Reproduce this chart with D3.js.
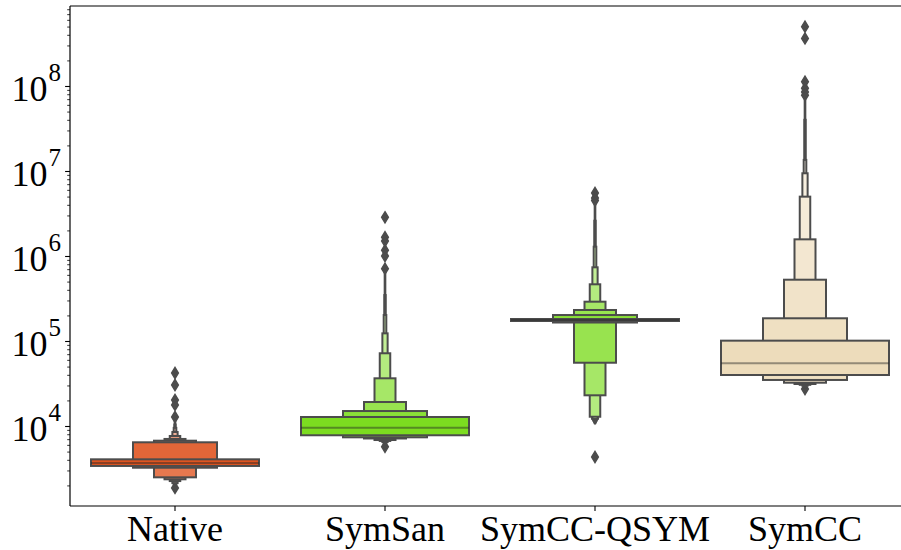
<!DOCTYPE html>
<html>
<head>
<meta charset="utf-8">
<script src="https://cdn.jsdelivr.net/npm/d3@7"></script>
<style>
  body { margin: 0; background: #ffffff; }
  text { font-family: "Liberation Serif", "DejaVu Serif", serif; fill: #000; }
</style>
</head>
<body>
<svg id="chart" width="901" height="550"></svg>
<script>
// Letter-value (boxen) plot of per-tool measurements on a log scale.
const categories = ["Native", "SymSan", "SymCC-QSYM", "SymCC"];
const baseColors = ["#df5420", "#7cdc20", "#7cdc20", "#eddcbb"];

// Medians
const medians = [3670, 9550, 176600, 54700];

// Letter values, innermost box (quartiles) first, then octiles, sixteenths, ...
const nativeUpper = [4055, 6430, 6715, 7040, 7630, 8500, 9500, 10400, 11100];
const nativeLower = [3388, 3230, 2490, 2360, 2250, 2130, 2080, 2030, 1990];
const symsanUpper = [12760, 15000, 19150, 36400, 71700, 123000, 202000, 347000, 631000];
const symsanLower = [7780, 7360, 7130, 6840, 6670, 6480, 6310, 6140, 5980];
const qsymUpper = [181400, 202000, 231600, 290000, 464500, 736000, 1286000, 2600000, 4100000];
const qsymLower = [171900, 165000, 55500, 22970, 12850, 12080, 11450, 11100, 10800];
const symccUpper = [100900, 185000, 526000, 1570000, 4990000, 9400000, 13500000, 40000000, 68000000];
const symccLower = [39800, 34800, 32300, 31200, 30500, 29800, 29200, 28700, 28300];

// Points beyond the outermost letter values
const nativeOutliers = [42000, 30300, 20200, 17700, 12750, 1870];
const symsanOutliers = [2850000, 1660000, 1500000, 1170000, 1000000, 710000, 5700];
const qsymOutliers = [5500000, 4800000, 4500000, 12300, 4320];
const symccOutliers = [499000000, 363000000, 112000000, 94000000, 85000000, 78000000, 27200];

// Axis ticks
const majorTicks = [1e4, 1e5, 1e6, 1e7, 1e8];
const majorExponents = ["4", "5", "6", "7", "8"];
const yDomain = [1145, 8.73e8];

const upperSets = [nativeUpper, symsanUpper, qsymUpper, symccUpper];
const lowerSets = [nativeLower, symsanLower, qsymLower, symccLower];
const outlierSets = [nativeOutliers, symsanOutliers, qsymOutliers, symccOutliers];

const svg = d3.select("#chart");
const area = { left: 70, right: 910, top: 6, bottom: 506 };
const gray = "#4c4c4c";

const x = d3.scaleBand().domain(categories).range([area.left, area.right]).padding(0);
const y = d3.scaleLog().domain(yDomain).range([area.bottom, area.top]);
const fullWidth = x.bandwidth() * 0.8;

// Box colours fade from the base colour toward white for the outer letter values
function shade(base, i, k) {
  const t = 0.85 * i / (k - 1);
  return d3.interpolateRgb(base, "#ffffff")(t);
}

const boxesLayer = svg.append("g");
categories.forEach((cat, ci) => {
  const cx = x(cat) + x.bandwidth() / 2;
  const g = boxesLayer.append("g");
  // outliers (drawn underneath the boxes)
  g.selectAll("path.flier")
    .data(outlierSets[ci])
    .join("path")
    .attr("class", "flier")
    .attr("d", v => {
      const py = y(v), hh = 5.6, hw = 3.4;
      return `M${cx},${py - hh}L${cx + hw},${py}L${cx},${py + hh}L${cx - hw},${py}Z`;
    })
    .attr("fill", gray)
    .attr("stroke", gray)
    .attr("stroke-width", 1.4);

  const ups = upperSets[ci], lows = lowerSets[ci];
  const k = ups.length;
  const idx = d3.range(k).reverse(); // outermost first, quartile box on top
  g.selectAll("rect.lv")
    .data(idx)
    .join("rect")
    .attr("class", "lv")
    .attr("x", i => cx - fullWidth * Math.pow(2, -i) / 2)
    .attr("width", i => fullWidth * Math.pow(2, -i))
    .attr("y", i => y(ups[i]))
    .attr("height", i => Math.max(0, y(lows[i]) - y(ups[i])))
    .attr("fill", i => shade(baseColors[ci], i, k))
    .attr("stroke", gray)
    .attr("stroke-width", 2);
});

// Median lines on top of all boxes
svg.append("g").selectAll("line")
  .data(categories)
  .join("line")
  .attr("x1", d => x(d) + x.bandwidth() / 2 - fullWidth / 2)
  .attr("x2", d => x(d) + x.bandwidth() / 2 + fullWidth / 2)
  .attr("y1", (d, i) => y(medians[i]))
  .attr("y2", (d, i) => y(medians[i]))
  .attr("stroke", "rgb(38,38,38)")
  .attr("stroke-opacity", 0.45)
  .attr("stroke-width", 2);

// Minor ticks
const minorTicks = [];
for (let e = 3; e <= 8; e++) {
  for (let m = 2; m <= 9; m++) {
    const v = m * Math.pow(10, e);
    if (v >= yDomain[0] && v <= yDomain[1]) minorTicks.push(v);
  }
}
const yMinor = d3.axisLeft(y).tickValues(minorTicks).tickSize(2.8).tickFormat("");
const gMinor = svg.append("g").attr("transform", `translate(${area.left},0)`).call(yMinor);
gMinor.select(".domain").remove();
gMinor.selectAll("line").attr("stroke", "#000").attr("stroke-width", 0.8);

const yMajor = d3.axisLeft(y).tickValues(majorTicks).tickSize(4.9).tickFormat("");
const gMajor = svg.append("g").attr("transform", `translate(${area.left},0)`).call(yMajor);
gMajor.select(".domain").remove();
gMajor.selectAll("line").attr("stroke", "#000").attr("stroke-width", 1.1);

// Major tick labels as 10 with a raised exponent
const labels = svg.append("g").selectAll("text")
  .data(majorTicks)
  .join("text")
  .attr("x", 61)
  .attr("y", d => y(d) + 15.5)
  .attr("text-anchor", "end")
  .attr("font-size", 36);
labels.append("tspan").text("10");
labels.append("tspan")
  .attr("font-size", 25)
  .attr("dy", -20)
  .attr("dx", 1)
  .text((d, i) => majorExponents[i]);

// Category axis
const xAxis = d3.axisBottom(x).tickSize(4.9).tickSizeOuter(0);
const gx = svg.append("g").attr("transform", `translate(0,${area.bottom})`).call(xAxis);
gx.select(".domain").remove();
gx.selectAll("line").attr("stroke", "#000").attr("stroke-width", 1.1);
gx.selectAll("text")
  .attr("font-size", 36)
  .attr("font-family", "Liberation Serif, DejaVu Serif, serif")
  .attr("fill", "#000")
  .attr("dy", null)
  .attr("y", 35);

// Frame
const frame = svg.append("g").attr("stroke", "#000").attr("stroke-width", 1.2).attr("fill", "none");
frame.append("line").attr("x1", area.left).attr("x2", area.left).attr("y1", area.top).attr("y2", area.bottom);
frame.append("line").attr("x1", area.left).attr("x2", area.right).attr("y1", area.top).attr("y2", area.top);
frame.append("line").attr("x1", area.left).attr("x2", area.right).attr("y1", area.bottom).attr("y2", area.bottom);
frame.append("line").attr("x1", area.right).attr("x2", area.right).attr("y1", area.top).attr("y2", area.bottom);
</script>
</body>
</html>
